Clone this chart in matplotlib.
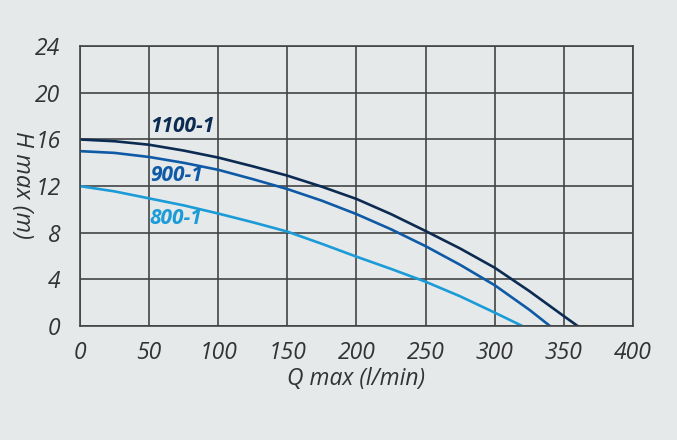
import matplotlib
matplotlib.use('Agg')
import matplotlib.pyplot as plt

q_1100 = [0, 25, 50, 75, 100, 125, 150, 175, 200, 225, 250, 275, 300, 325, 350, 360]
h_1100 = [16.0, 15.85, 15.55, 15.05, 14.45, 13.7, 12.9, 11.95, 10.9, 9.6, 8.15, 6.65, 5.0, 3.0, 0.85, 0.0]

q_900 = [0, 25, 50, 75, 100, 125, 150, 175, 200, 225, 250, 275, 300, 325, 340]
h_900 = [15.0, 14.85, 14.5, 14.0, 13.4, 12.6, 11.75, 10.75, 9.6, 8.3, 6.85, 5.25, 3.5, 1.4, 0.0]

q_800 = [0, 25, 50, 75, 100, 125, 150, 175, 200, 225, 250, 275, 300, 320]
h_800 = [12.0, 11.55, 10.95, 10.35, 9.65, 8.9, 8.1, 7.05, 5.95, 4.9, 3.8, 2.55, 1.15, 0.0]

x_ticks = [0, 50, 100, 150, 200, 250, 300, 350, 400]
y_ticks = [0, 4, 8, 12, 16, 20, 24]

bg = '#e5e9e9'
c_1100 = '#0c2b52'
c_900 = '#0f5aa6'
c_800 = '#1b9bd7'

plt.rcParams['font.family'] = ['Open Sans', 'DejaVu Sans']

fig = plt.figure(figsize=(6.77, 4.40), dpi=100, facecolor=bg)
ax = fig.add_axes([0.118, 0.259, 0.817, 0.636])
ax.set_facecolor(bg)

ax.plot(q_1100, h_1100, color=c_1100, lw=1.9)
ax.plot(q_900, h_900, color=c_900, lw=1.9)
ax.plot(q_800, h_800, color=c_800, lw=1.9)

ax.text(50.5, 17.1, '1100-1', color=c_1100, fontsize=15, fontweight='bold',
        style='italic', va='center', ha='left')
ax.text(50.5, 12.9, '900-1', color=c_900, fontsize=15, fontweight='bold',
        style='italic', va='center', ha='left')
ax.text(50.5, 9.2, '800-1', color=c_800, fontsize=15, fontweight='bold',
        style='italic', va='center', ha='left')

ax.set_xlim(0, 400)
ax.set_ylim(0, 24)
ax.set_xticks(x_ticks)
ax.set_yticks(y_ticks)
ax.grid(True, color='#444444', lw=1.2)
ax.set_axisbelow(True)
for s in ax.spines.values():
    s.set_color('#444444')
    s.set_linewidth(1.2)

ax.tick_params(length=0, labelsize=16.5, labelcolor='#333333')
ax.tick_params(axis='x', pad=11)
ax.tick_params(axis='y', pad=14)
for lab in ax.get_xticklabels() + ax.get_yticklabels():
    lab.set_style('italic')

ax.set_xlabel('Q max (l/min)', fontsize=16.5, style='italic', color='#333333', labelpad=1)
ax.set_ylabel('H max (m)', fontsize=17, style='italic', color='#333333',
              rotation=-90, va='center', ha='center')
ax.yaxis.set_label_coords(-0.104, 0.505)

fig.savefig('out.png', dpi=100, facecolor=bg)
